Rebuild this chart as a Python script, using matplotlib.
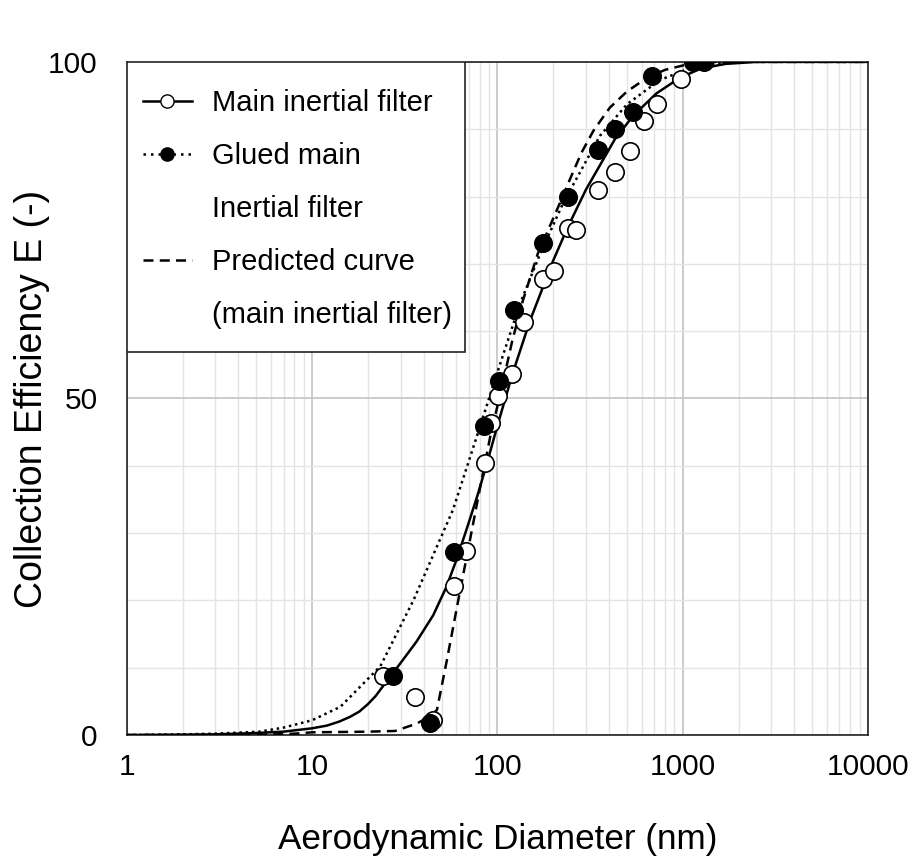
import numpy as np
import matplotlib.pyplot as plt
from matplotlib.lines import Line2D
from matplotlib.patches import Rectangle

plt.rcParams['font.family'] = ['Liberation Sans', 'DejaVu Sans']

# measured points
main_x = [24.2, 35.8, 44.6, 58.2, 67.5, 85.5, 91.8, 100.9, 119.2, 138.8, 176.4, 201.6,
          240.7, 264.9, 349.4, 430, 518, 616.6, 727.7, 976.8]
main_y = [8.8, 5.7, 2.2, 22.1, 27.3, 40.4, 46.4, 50.4, 53.6, 61.4, 67.7, 69.0,
          75.3, 75.0, 81.0, 83.6, 86.7, 91.2, 93.8, 97.5]

glued_x = [27.2, 43.2, 58.2, 84.5, 101.8, 122.6, 176.4, 240.7, 349.4, 430, 540, 678.6, 1129, 1300]
glued_y = [8.8, 1.8, 27.2, 45.9, 52.6, 63.2, 73.1, 79.9, 86.9, 90.1, 92.5, 97.9, 100, 100]

# fitted / predicted curves
solid_x = [1, 2, 3, 5, 7, 10, 12, 14, 16, 18, 20, 22, 26.4, 30, 36.6, 45, 53, 60, 68, 78, 87,
           100, 121, 150, 200, 240, 300, 430, 540, 720, 960, 1250, 1700, 2500, 10000]
solid_y = [0, 0.05, 0.1, 0.3, 0.5, 1.0, 1.4, 2.0, 2.7, 3.5, 4.6, 5.8, 8.7, 10.7, 13.9, 17.8, 22,
           26, 30.5, 35.6, 40.0, 46.0, 53.8, 61.6, 70.5, 75.5, 81, 88.5, 92, 95.3, 97.6, 99,
           99.7, 100, 100]

dotted_x = [1, 2, 3, 5.2, 7, 10, 14.2, 23.3, 35.3, 57.6, 78.7, 103, 132, 170, 226, 357, 500,
            752, 1200, 2000, 10000]
dotted_y = [0, 0.1, 0.2, 0.5, 1.1, 2.2, 4.2, 10.2, 20.1, 33.5, 45, 55, 64, 71.5, 79, 89, 93.7,
            97.3, 99.5, 100, 100]

dashed_x = [1, 5, 8, 10, 20, 28, 36.7, 42, 47.1, 53.3, 61.4, 82.1, 92.9, 103, 120, 137, 165,
            217, 250, 284, 330, 404, 500, 638, 800, 1048, 1500, 10000]
dashed_y = [0, 0, 0.2, 0.4, 0.5, 0.6, 1.7, 2.6, 3.7, 11.1, 20, 37.9, 45.3, 50.3, 58.5, 64.5, 71.5,
            79, 83, 86.5, 89.8, 93.2, 95.6, 97.6, 98.8, 99.6, 100, 100]

fig = plt.figure(figsize=(9.16, 8.63), dpi=100)
ax = fig.add_axes([0.1386, 0.1483, 0.809, 0.78])

ax.plot(solid_x, solid_y, color='black', lw=1.8, ls='-', zorder=3)
ax.plot(dotted_x, dotted_y, color='black', lw=1.8, ls=(0, (1, 1.5)), zorder=3)
ax.plot(dashed_x, dashed_y, color='black', lw=1.8, ls=(0, (4, 2.5)), zorder=3)

ax.plot(main_x, main_y, ls='none', marker='o', ms=12.5, mfc='white', mec='black', mew=1.2, zorder=4)
ax.plot(glued_x, glued_y, ls='none', marker='o', ms=12.5, mfc='black', mec='black', mew=1.2, zorder=5)

ax.set_xscale('log')
ax.set_xlim(1, 10000)
ax.set_ylim(0, 100)
ax.set_xticks([1, 10, 100, 1000, 10000])
ax.set_xticklabels(['1', '10', '100', '1000', '10000'])
ax.set_yticks([0, 50, 100])
ax.set_yticks(np.arange(10, 100, 10), minor=True)

ax.grid(which='major', color='#c4c4c4', lw=1.2)
ax.grid(which='minor', color='#e4e4e4', lw=1.0)
ax.set_axisbelow(True)

ax.tick_params(which='major', labelsize=21.5, length=0)
ax.tick_params(axis='x', pad=13)
ax.tick_params(axis='y', pad=21)
ax.tick_params(which='minor', length=0)
for s in ax.spines.values():
    s.set_linewidth(1.2)
    s.set_color('#222222')

ax.set_xlabel('Aerodynamic Diameter (nm)', fontsize=25.3, labelpad=30)
ax.set_ylabel('Collection Efficiency E (-)', fontsize=27, labelpad=-1)

# legend box drawn separately so the padding can be uneven like the original
box = Rectangle((0, 0.569), 0.456, 0.431, transform=ax.transAxes, facecolor='white',
                edgecolor='#222222', lw=1.2, zorder=6)
ax.add_patch(box)

handles = [
    Line2D([], [], color='black', lw=1.8, marker='o', ms=9.5, mfc='white', mec='black'),
    Line2D([], [], color='black', lw=1.8, ls=(0, (1, 2)), marker='o', ms=9.5, mfc='black', mec='black'),
    Line2D([], [], color='none'),
    Line2D([], [], color='black', lw=1.8, ls=(0, (4, 2.5))),
    Line2D([], [], color='none'),
]
labels = ['Main inertial filter', 'Glued main', 'Inertial filter', 'Predicted curve',
          '(main inertial filter)']
leg = ax.legend(handles, labels, loc='upper left', bbox_to_anchor=(0.0216, 0.960), fontsize=21,
                frameon=False, borderaxespad=0, borderpad=0, handlelength=1.68,
                handletextpad=0.69, labelspacing=0.86)
leg.set_zorder(7)

plt.savefig('out.png', dpi=100)
